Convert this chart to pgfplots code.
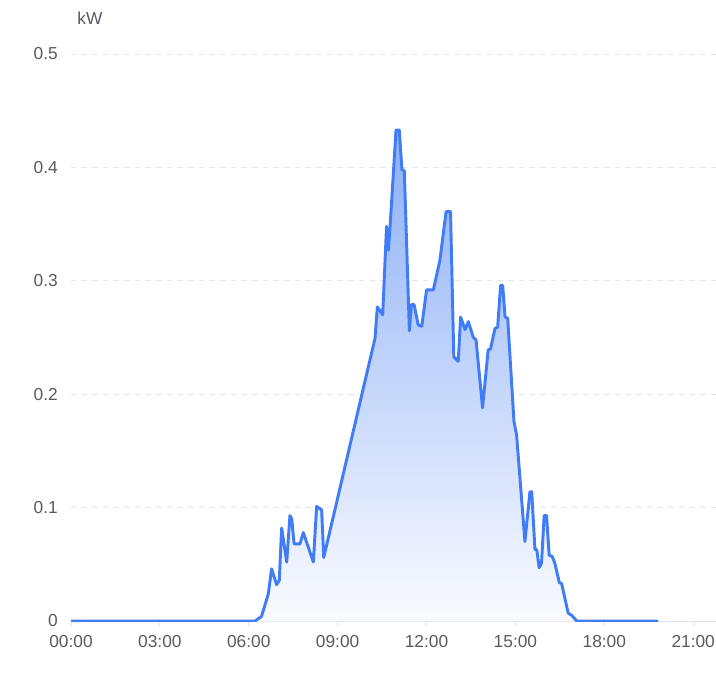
\documentclass[border=0pt]{standalone}
\usepackage{fontspec}
\setmainfont{Liberation Sans}
\usepackage{pgfplots}
\pgfplotsset{compat=1.18}
\definecolor{lineblue}{RGB}{64,124,246}
\definecolor{tickgray}{RGB}{88,90,96}
\definecolor{gridgray}{RGB}{224,230,241}
\definecolor{filltop}{RGB}{140,175,246}
\definecolor{fillbot}{RGB}{250,251,255}
\begin{document}
\begin{tikzpicture}
\useasboundingbox (-53.25pt,-38.25pt) rectangle (483.75pt,465.75pt);
\begin{axis}[
  at={(0pt,0pt)}, anchor=south west,
  scale only axis, width=483.75pt, height=425.25pt,
  xmin=0, xmax=21.77, ymin=0, ymax=0.5,
  xtick={0,3,6,9,12,15,18,21},
  xticklabels={00:00,03:00,06:00,09:00,12:00,15:00,18:00,21:00},
  ytick={0,0.1,0.2,0.3,0.4,0.5},
  yticklabels={0,0.1,0.2,0.3,0.4,0.5},
  ymajorgrids,
  grid style={gridgray, dash pattern=on 4pt off 4pt, line width=0.75pt},
  axis x line*=bottom, axis y line*=left,
  x axis line style={draw=gridgray, line width=0.75pt, -},
  y axis line style={draw=none},
  tick label style={font=\fontsize{13}{15}\selectfont, text=tickgray},
  xtick style={draw=gridgray, line width=0.75pt},
  ytick style={draw=none},
  major tick length=3.75pt, tick align=outside,
  xticklabel style={inner sep=0pt, anchor=north, yshift=-7pt},
  yticklabel style={inner sep=0pt, anchor=east, xshift=-6pt},
  extra description/.code={
    \node[font=\fontsize{13}{15}\selectfont, text=tickgray, anchor=center] at ([xshift=14.25pt,yshift=27pt]axis description cs:0,1) {kW};
  },
]
\addplot[draw=none, top color=filltop, bottom color=fillbot] coordinates {
(0,0) (6.21,0) (6.43,0.004) (6.66,0.024) (6.77,0.046) (6.94,0.032) (7.03,0.036) (7.11,0.082) (7.28,0.052) (7.39,0.093) (7.45,0.090) (7.53,0.068) (7.73,0.068) (7.84,0.078) (8.01,0.065) (8.18,0.052) (8.29,0.101) (8.46,0.098) (8.53,0.056)
(10.07,0.228) (10.26,0.249) (10.34,0.277) (10.52,0.270) (10.65,0.348) (10.71,0.327) (10.77,0.348) (10.97,0.433) (11.08,0.433) (11.17,0.398) (11.25,0.397) (11.42,0.256) (11.49,0.279) (11.58,0.279) (11.72,0.261) (11.84,0.260) (12.00,0.292) (12.23,0.292) (12.45,0.318) (12.66,0.361) (12.81,0.361) (12.92,0.233) (13.07,0.229) (13.15,0.268) (13.30,0.257) (13.41,0.264) (13.58,0.250) (13.67,0.248) (13.89,0.188) (14.08,0.239) (14.16,0.240) (14.31,0.258) (14.40,0.259) (14.50,0.296) (14.57,0.296) (14.65,0.268) (14.74,0.267) (14.95,0.176) (15.04,0.164) (15.32,0.070) (15.49,0.114) (15.55,0.114) (15.66,0.063) (15.72,0.063) (15.80,0.047) (15.88,0.051) (15.97,0.093) (16.05,0.093) (16.14,0.058) (16.24,0.057) (16.33,0.051) (16.48,0.034) (16.56,0.033) (16.78,0.007) (16.90,0.005) (17.07,0) (19.78,0)
} \closedcycle;
\addplot[lineblue, line width=2.2pt, line join=round, line cap=round] coordinates {
(0,0) (6.21,0) (6.43,0.004) (6.66,0.024) (6.77,0.046) (6.94,0.032) (7.03,0.036) (7.11,0.082) (7.28,0.052) (7.39,0.093) (7.45,0.090) (7.53,0.068) (7.73,0.068) (7.84,0.078) (8.01,0.065) (8.18,0.052) (8.29,0.101) (8.46,0.098) (8.53,0.056)
(10.07,0.228) (10.26,0.249) (10.34,0.277) (10.52,0.270) (10.65,0.348) (10.71,0.327) (10.77,0.348) (10.97,0.433) (11.08,0.433) (11.17,0.398) (11.25,0.397) (11.42,0.256) (11.49,0.279) (11.58,0.279) (11.72,0.261) (11.84,0.260) (12.00,0.292) (12.23,0.292) (12.45,0.318) (12.66,0.361) (12.81,0.361) (12.92,0.233) (13.07,0.229) (13.15,0.268) (13.30,0.257) (13.41,0.264) (13.58,0.250) (13.67,0.248) (13.89,0.188) (14.08,0.239) (14.16,0.240) (14.31,0.258) (14.40,0.259) (14.50,0.296) (14.57,0.296) (14.65,0.268) (14.74,0.267) (14.95,0.176) (15.04,0.164) (15.32,0.070) (15.49,0.114) (15.55,0.114) (15.66,0.063) (15.72,0.063) (15.80,0.047) (15.88,0.051) (15.97,0.093) (16.05,0.093) (16.14,0.058) (16.24,0.057) (16.33,0.051) (16.48,0.034) (16.56,0.033) (16.78,0.007) (16.90,0.005) (17.07,0) (19.78,0)
};
\end{axis}
\end{tikzpicture}
\end{document}
